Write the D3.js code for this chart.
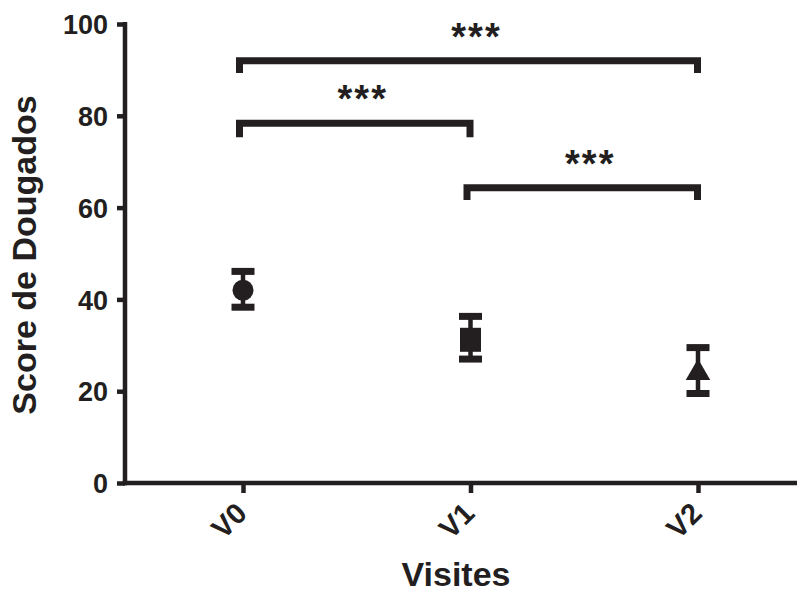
<!DOCTYPE html>
<html>
<head>
<meta charset="utf-8">
<script src="https://cdn.jsdelivr.net/npm/d3@7"></script>
<style>
  html, body { margin: 0; padding: 0; background: #fff; }
  svg { display: block; }
  text { font-family: "Liberation Sans", Arial, sans-serif; font-weight: bold; fill: #231f20; }
</style>
</head>
<body>
<svg id="chart" width="797" height="593"></svg>
<script>
// ---- data ----
const categories = ["V0", "V1", "V2"];
const means = [42.0, 31.2, 24.0];
const upper = [46.1, 36.3, 29.5];
const lower = [38.3, 27.0, 19.5];
const markers = ["circle", "square", "triangle"];
const yTicks = [0, 20, 40, 60, 80, 100];
const brackets = [
  { from: "V0", to: "V2", top: 92.0, drop: 90.0, label: "***" },
  { from: "V0", to: "V1", top: 78.4, drop: 76.0, label: "***" },
  { from: "V1", to: "V2", top: 64.3, drop: 62.3, label: "***" }
];
const xTitle = "Visites";
const yTitle = "Score de Dougados";

// ---- layout ----
const ink = "#231f20";
const svg = d3.select("#chart");
const axisX = 125, axisY = 483;

const x = d3.scalePoint().domain(categories).range([243, 698]);
const y = d3.scaleLinear().domain([0, 100]).range([483, 24]);

// y axis
const yAxis = svg.append("g").attr("transform", `translate(${axisX},0)`)
  .call(d3.axisLeft(y).tickValues(yTicks).tickSize(8).tickPadding(9).tickFormat(d3.format("d")));
yAxis.select(".domain").remove();
yAxis.selectAll(".tick line").attr("stroke", ink).attr("stroke-width", 4.5);
yAxis.selectAll(".tick text").attr("font-size", 27).attr("fill", ink)
  .attr("font-family", "Liberation Sans, Arial, sans-serif").attr("font-weight", "bold")
  .attr("dy", "0.36em");
svg.append("line").attr("x1", axisX).attr("x2", axisX)
  .attr("y1", y(100) - 2).attr("y2", axisY + 2.25)
  .attr("stroke", ink).attr("stroke-width", 4.5);

// x axis
const xAxis = svg.append("g").attr("transform", `translate(0,${axisY})`)
  .call(d3.axisBottom(x).tickSize(10).tickPadding(4));
xAxis.select(".domain").remove();
xAxis.selectAll(".tick line").attr("stroke", ink).attr("stroke-width", 4.5);
xAxis.selectAll(".tick text").attr("font-size", 29).attr("fill", ink)
  .attr("font-family", "Liberation Sans, Arial, sans-serif").attr("font-weight", "bold")
  .attr("text-anchor", "end")
  .attr("y", 0)
  .attr("transform", "translate(-2,25) rotate(-45)")
  .attr("dy", "0.35em");
svg.append("line").attr("x1", axisX - 2.25).attr("x2", 797)
  .attr("y1", axisY).attr("y2", axisY)
  .attr("stroke", ink).attr("stroke-width", 4.5);

// axis titles
svg.append("text").attr("x", 456).attr("y", 586).attr("text-anchor", "middle")
  .attr("font-size", 34).text(xTitle);
svg.append("text").attr("transform", "translate(36,255) rotate(-90)")
  .attr("text-anchor", "middle").attr("font-size", 34).text(yTitle);

// error bars
const capW = 23;
const g = svg.append("g");
categories.forEach((c, i) => {
  const cx = x(c);
  g.append("line").attr("x1", cx).attr("x2", cx)
    .attr("y1", y(upper[i])).attr("y2", y(lower[i]))
    .attr("stroke", ink).attr("stroke-width", 4.5);
  [upper[i], lower[i]].forEach(v => {
    g.append("line").attr("x1", cx - capW / 2).attr("x2", cx + capW / 2)
      .attr("y1", y(v)).attr("y2", y(v))
      .attr("stroke", ink).attr("stroke-width", 7);
  });
  const cy = y(means[i]);
  if (markers[i] === "circle") {
    g.append("circle").attr("cx", cx).attr("cy", cy).attr("r", 10.5).attr("fill", ink);
  } else if (markers[i] === "square") {
    g.append("rect").attr("x", cx - 10.5).attr("y", cy - 12).attr("width", 21).attr("height", 24).attr("fill", ink);
  } else {
    g.append("path").attr("d", d3.symbol(d3.symbolTriangle, 260)()).attr("transform", `translate(${cx},${cy})`).attr("fill", ink);
  }
});

// significance brackets
brackets.forEach(b => {
  const x1 = x(b.from) - 7, x2 = x(b.to) + 3;
  const yt = y(b.top), yd = y(b.drop);
  svg.append("path")
    .attr("d", `M${x1 + 3.5},${yd + 3} L${x1 + 3.5},${yt} L${x2 - 3.5},${yt} L${x2 - 3.5},${yd + 3}`)
    .attr("fill", "none").attr("stroke", ink).attr("stroke-width", 7).attr("stroke-linejoin", "miter");
  svg.append("text").attr("x", (x1 + x2) / 2 + 8).attr("y", yt - 11)
    .attr("text-anchor", "middle").attr("font-size", 38).attr("letter-spacing", 2).text(b.label);
});
</script>
</body>
</html>
